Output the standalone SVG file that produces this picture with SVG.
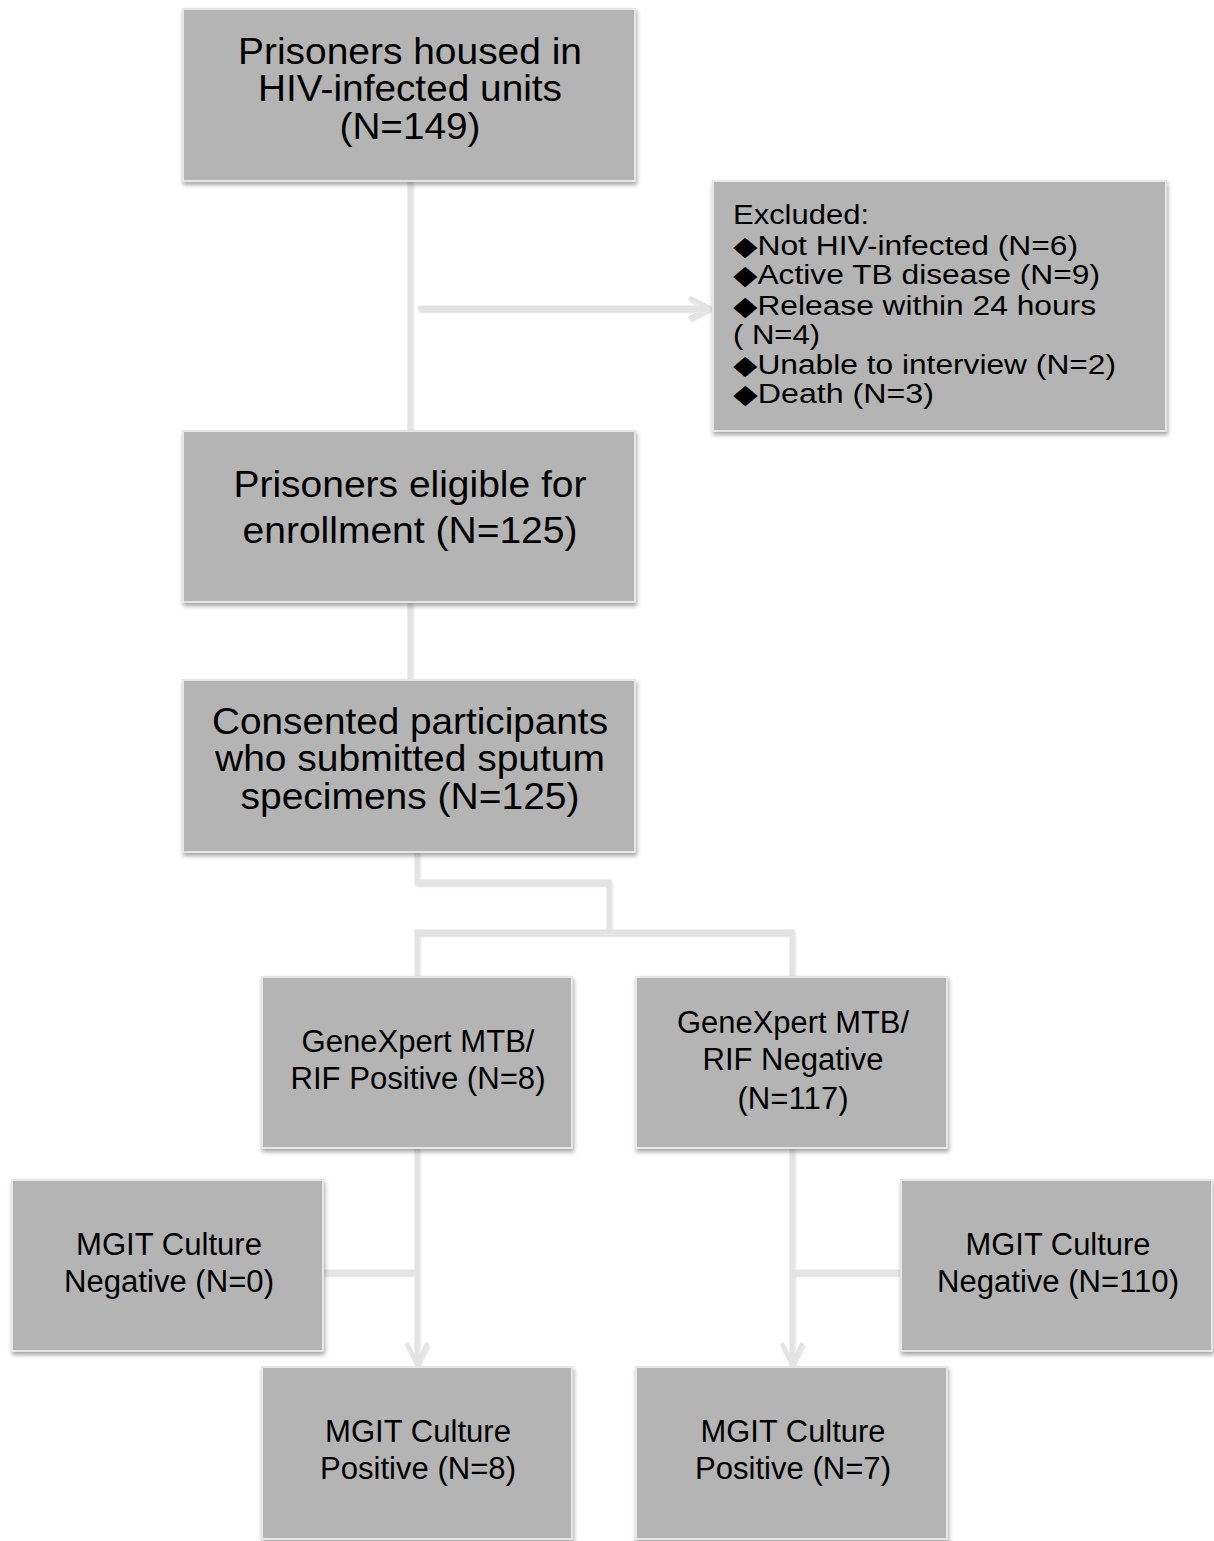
<svg xmlns="http://www.w3.org/2000/svg" width="1214" height="1541" viewBox="0 0 1214 1541">
<style>
.box{fill:#b4b4b4;stroke:#e6e6e6;stroke-width:2;filter:url(#sh)}
.t{font-family:"Liberation Sans",Arial,sans-serif;fill:#000;text-anchor:middle}
.big{font-size:37px}
.mid{font-size:31px}
.ex{font-family:"Liberation Sans","DejaVu Sans",Arial,sans-serif;font-size:27px;fill:#000}
.c{fill:none;stroke:#e3e3e3;stroke-width:5}
</style>
<defs>
<filter id="sh" x="-5%" y="-5%" width="112%" height="115%">
<feDropShadow dx="1" dy="3" stdDeviation="2" flood-color="#000" flood-opacity="0.35"/>
</filter>
<filter id="lsh" filterUnits="userSpaceOnUse" x="0" y="0" width="1214" height="1541">
<feDropShadow dx="1" dy="2" stdDeviation="1.2" flood-color="#000" flood-opacity="0.15"/>
</filter>
<marker id="ar" viewBox="0 0 12 12" refX="11" refY="6" markerWidth="5" markerHeight="5" orient="auto" markerUnits="strokeWidth">
<path d="M1,1 L11,6 L1,11" fill="none" stroke="#e3e3e3" stroke-width="2"/>
</marker>
</defs>

<g id="connectors" filter="url(#lsh)">
<path class="c" d="M410,181 V431"/>
<path class="c" d="M418,308 H710" marker-end="url(#ar)"/>
<path class="c" d="M410,602 V680"/>
<path class="c" d="M417,852 V882 H609 V932"/>
<path class="c" d="M417,977 V932 H792 V977"/>
<path class="c" d="M417,1148 V1364" marker-end="url(#ar)"/>
<path class="c" d="M323,1272 H417"/>
<path class="c" d="M792,1148 V1364" marker-end="url(#ar)"/>
<path class="c" d="M792,1272 H901"/>
</g>

<g id="n1">
<rect class="box" x="183" y="9" width="452" height="172"/>
<text class="t big" x="410" y="64" textLength="344" lengthAdjust="spacingAndGlyphs">Prisoners housed in</text>
<text class="t big" x="410" y="101" textLength="304" lengthAdjust="spacingAndGlyphs">HIV-infected units</text>
<text class="t big" x="410" y="139" textLength="141" lengthAdjust="spacingAndGlyphs">(N=149)</text>
</g>

<g id="excluded">
<rect class="box" x="713" y="181" width="453" height="250"/>
<text class="ex" x="733" y="224" textLength="136" lengthAdjust="spacingAndGlyphs">Excluded:</text>
<text class="ex" x="733" y="255" textLength="345" lengthAdjust="spacingAndGlyphs">◆Not HIV-infected (N=6)</text>
<text class="ex" x="733" y="284" textLength="367" lengthAdjust="spacingAndGlyphs">◆Active TB disease (N=9)</text>
<text class="ex" x="733" y="315" textLength="363" lengthAdjust="spacingAndGlyphs">◆Release within 24 hours</text>
<text class="ex" x="733" y="344" textLength="87" lengthAdjust="spacingAndGlyphs">( N=4)</text>
<text class="ex" x="733" y="374" textLength="383" lengthAdjust="spacingAndGlyphs">◆Unable to interview (N=2)</text>
<text class="ex" x="733" y="403" textLength="201" lengthAdjust="spacingAndGlyphs">◆Death (N=3)</text>
</g>

<g id="n2">
<rect class="box" x="183" y="431" width="452" height="171"/>
<text class="t big" x="410" y="497" textLength="353" lengthAdjust="spacingAndGlyphs">Prisoners eligible for</text>
<text class="t big" x="410" y="543" textLength="335" lengthAdjust="spacingAndGlyphs">enrollment (N=125)</text>
</g>

<g id="n3">
<rect class="box" x="183" y="680" width="452" height="172"/>
<text class="t big" x="410" y="734" textLength="396" lengthAdjust="spacingAndGlyphs">Consented participants</text>
<text class="t big" x="410" y="771" textLength="390" lengthAdjust="spacingAndGlyphs">who submitted sputum</text>
<text class="t big" x="410" y="809" textLength="339" lengthAdjust="spacingAndGlyphs">specimens (N=125)</text>
</g>

<g id="gx-pos">
<rect class="box" x="262" y="977" width="310" height="171"/>
<text class="t mid" x="418" y="1052" textLength="233" lengthAdjust="spacingAndGlyphs">GeneXpert MTB/</text>
<text class="t mid" x="418" y="1089" textLength="255" lengthAdjust="spacingAndGlyphs">RIF Positive (N=8)</text>
</g>

<g id="gx-neg">
<rect class="box" x="636" y="977" width="311" height="171"/>
<text class="t mid" x="793" y="1033" textLength="232" lengthAdjust="spacingAndGlyphs">GeneXpert MTB/</text>
<text class="t mid" x="793" y="1070" textLength="181" lengthAdjust="spacingAndGlyphs">RIF Negative</text>
<text class="t mid" x="793" y="1109" textLength="111" lengthAdjust="spacingAndGlyphs">(N=117)</text>
</g>

<g id="mgit-neg-left">
<rect class="box" x="12" y="1180" width="311" height="171"/>
<text class="t mid" x="169" y="1255" textLength="186" lengthAdjust="spacingAndGlyphs">MGIT Culture</text>
<text class="t mid" x="169" y="1292" textLength="210" lengthAdjust="spacingAndGlyphs">Negative (N=0)</text>
</g>

<g id="mgit-neg-right">
<rect class="box" x="901" y="1180" width="311" height="171"/>
<text class="t mid" x="1058" y="1255" textLength="185" lengthAdjust="spacingAndGlyphs">MGIT Culture</text>
<text class="t mid" x="1058" y="1292" textLength="242" lengthAdjust="spacingAndGlyphs">Negative (N=110)</text>
</g>

<g id="mgit-pos-left">
<rect class="box" x="262" y="1367" width="310" height="172"/>
<text class="t mid" x="418" y="1442" textLength="186" lengthAdjust="spacingAndGlyphs">MGIT Culture</text>
<text class="t mid" x="418" y="1479" textLength="196" lengthAdjust="spacingAndGlyphs">Positive (N=8)</text>
</g>

<g id="mgit-pos-right">
<rect class="box" x="636" y="1367" width="311" height="172"/>
<text class="t mid" x="793" y="1442" textLength="185" lengthAdjust="spacingAndGlyphs">MGIT Culture</text>
<text class="t mid" x="793" y="1479" textLength="196" lengthAdjust="spacingAndGlyphs">Positive (N=7)</text>
</g>
</svg>
